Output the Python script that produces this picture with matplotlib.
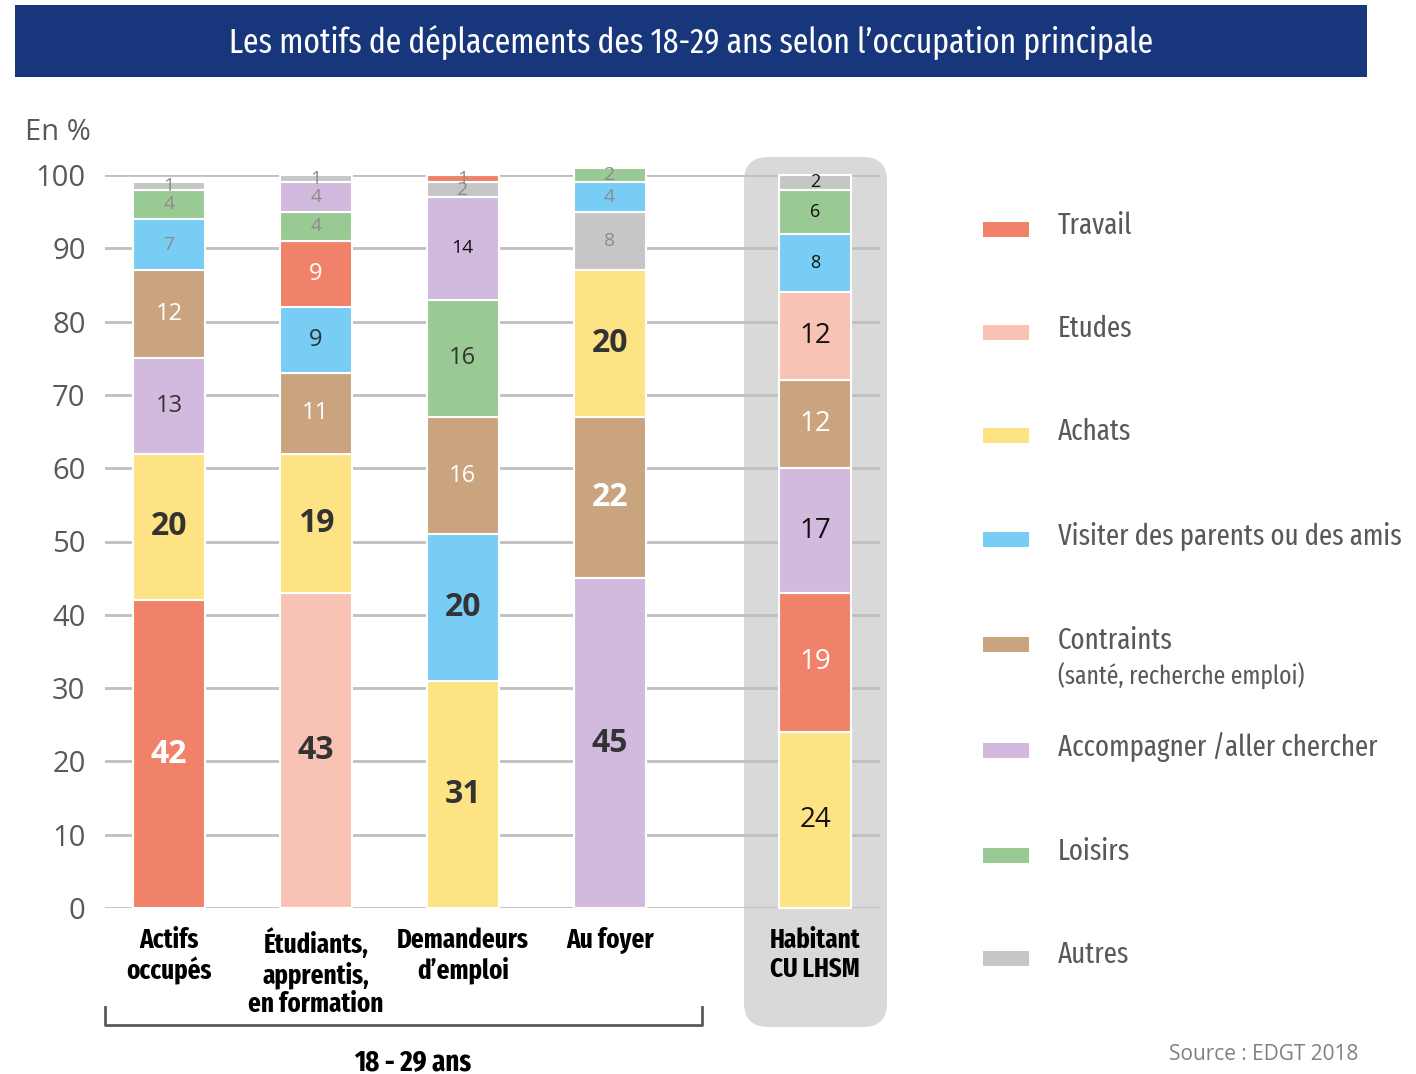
import numpy as np
import matplotlib
matplotlib.use("Agg")
import matplotlib.pyplot as plt
from matplotlib.patches import FancyBboxPatch, Rectangle
from matplotlib.transforms import IdentityTransform

# categories and series
groups = ["Actifs\noccupés", "Étudiants,\napprentis,\nen formation",
          "Demandeurs\nd’emploi", "Au foyer", "Habitant\nCU LHSM"]
motifs = ["Travail", "Etudes", "Achats", "Visiter des parents ou des amis",
          "Contraints", "Accompagner /aller chercher", "Loisirs", "Autres"]
colors = ["#f0826a", "#f8c3b4", "#fee385", "#77cdf4",
          "#c9a47e", "#d2badf", "#99ca93", "#c6c6c6"]

# stacking order (bottom -> top) and values for each group
actifs_motifs = ["Travail", "Achats", "Accompagner /aller chercher", "Contraints",
                 "Visiter des parents ou des amis", "Loisirs", "Autres"]
actifs_vals = [42, 20, 13, 12, 7, 4, 1]
etudiants_motifs = ["Etudes", "Achats", "Contraints", "Visiter des parents ou des amis",
                    "Travail", "Loisirs", "Accompagner /aller chercher", "Autres"]
etudiants_vals = [43, 19, 11, 9, 9, 4, 4, 1]
demandeurs_motifs = ["Achats", "Visiter des parents ou des amis", "Contraints", "Loisirs",
                     "Accompagner /aller chercher", "Autres", "Travail"]
demandeurs_vals = [31, 20, 16, 16, 14, 2, 1]
foyer_motifs = ["Accompagner /aller chercher", "Contraints", "Achats", "Autres",
                "Visiter des parents ou des amis", "Loisirs"]
foyer_vals = [45, 22, 20, 8, 4, 2]
habitant_motifs = ["Achats", "Travail", "Accompagner /aller chercher", "Contraints",
                   "Etudes", "Visiter des parents ou des amis", "Loisirs", "Autres"]
habitant_vals = [24, 19, 17, 12, 12, 8, 6, 2]

stacks = [(actifs_motifs, actifs_vals), (etudiants_motifs, etudiants_vals),
          (demandeurs_motifs, demandeurs_vals), (foyer_motifs, foyer_vals),
          (habitant_motifs, habitant_vals)]
yticks = list(range(0, 101, 10))

color_of = dict(zip(motifs, colors))
NARROW = ["Fira Sans Extra Condensed", "Roboto Condensed", "DejaVu Sans"]
NUM = ["Open Sans", "DejaVu Sans"]

W, H = 1416, 1074
fig = plt.figure(figsize=(W / 100, H / 100), dpi=100)

# title banner
fig.patches.append(Rectangle((15, H - 77), 1352, 72, transform=IdentityTransform(),
                             facecolor="#17367c", edgecolor="none"))
fig.text(691 / W, 1 - 42 / H, "Les motifs de déplacements des 18-29 ans selon l’occupation principale",
         color="white", fontsize=24.7, family=NARROW, ha="center", va="center")

# grey box behind the last bar
fig.patches.append(FancyBboxPatch((744, H - 1027), 143, 870, transform=IdentityTransform(),
                                  boxstyle="round,pad=0,rounding_size=24",
                                  facecolor="#d9d9d9", edgecolor="none", zorder=-5))

ax = fig.add_axes([105 / W, 1 - 908 / H, 775 / W, 733 / H])
ax.set_facecolor("none")
xpos = np.arange(len(groups), dtype=float)
xpos[-1] += 0.4
width = 0.49

for gi, (mlist, vals) in enumerate(stacks):
    bottom = 0
    for m, v in zip(mlist, vals):
        ax.bar(xpos[gi], v, width, bottom=bottom, color=color_of[m],
               edgecolor="white", linewidth=1.5, clip_on=False, zorder=3)
        # label style
        txtcol = "white" if m in ("Travail", "Contraints") else "#333333"
        weight = "normal"
        if gi < 4:
            if v >= 19:
                size, weight = 23, "bold"
            elif v >= 9 and v != 14:
                size = 17
            else:
                size = 14
            if v <= 8:
                txtcol = "#8c8c8c"
            elif v == 14:
                txtcol = "#111111"
        else:
            size = 20 if v >= 12 else 13
            if txtcol != "white":
                txtcol = "#111111"
        ax.text(xpos[gi], bottom + v / 2, str(v), ha="center", va="center",
                fontsize=size, fontweight=weight, color=txtcol, family=NUM,
                fontstretch="normal", zorder=4, clip_on=False)
        bottom += v

ax.set_xlim(-0.435, 4.84)
ax.set_ylim(0, 100)
ax.set_yticks(yticks)
ax.yaxis.grid(True, color="#bfbfbf", linewidth=2)
ax.set_axisbelow(True)
for s in ax.spines.values():
    s.set_visible(False)
ax.tick_params(axis="y", length=0, pad=14, labelsize=21, labelcolor="#595959")
for lab in ax.get_yticklabels():
    lab.set_family(NUM)
    lab.set_stretch("normal")
ax.set_xticks(xpos)
ax.set_xticklabels(groups, family=NARROW, fontweight="bold", fontsize=19.5,
                   linespacing=1.12, color="black")
ax.tick_params(axis="x", length=0, pad=14)

fig.text(25 / W, 1 - 132 / H, "En %", fontsize=21, color="#595959", family=NUM,
         fontstretch="normal", ha="left", va="center")

# bracket under the 18-29 groups
bx = [105, 105, 702, 702]
by = [1007, 1025, 1025, 1007]
fig.lines.append(plt.Line2D([x / W for x in bx], [1 - y / H for y in by],
                            transform=fig.transFigure, color="#595959", linewidth=2))
fig.text(413 / W, 1 - 1062 / H, "18 - 29 ans", family=NARROW, fontweight="bold",
         fontsize=21, ha="center", va="center")

# legend
leg_y = [226, 329, 432, 536, 641, 747, 852, 955]
for m, c, y in zip(motifs, colors, leg_y):
    fig.patches.append(Rectangle((983, H - y - 11), 46, 15, transform=IdentityTransform(),
                                 facecolor=c, edgecolor="none"))
    fig.text(1058 / W, 1 - y / H, m, family=NARROW, fontsize=21, color="#595959",
             ha="left", va="center")
fig.text(1058 / W, 1 - 676 / H, "(santé, recherche emploi)", family=NARROW,
         fontsize=18.5, color="#595959", ha="left", va="center")

fig.text(1358 / W, 1 - 1055 / H, "Source : EDGT 2018", family=NUM, fontsize=15,
         fontstretch="normal", color="#808080", ha="right", va="center")

fig.savefig("out.png", dpi=100)
